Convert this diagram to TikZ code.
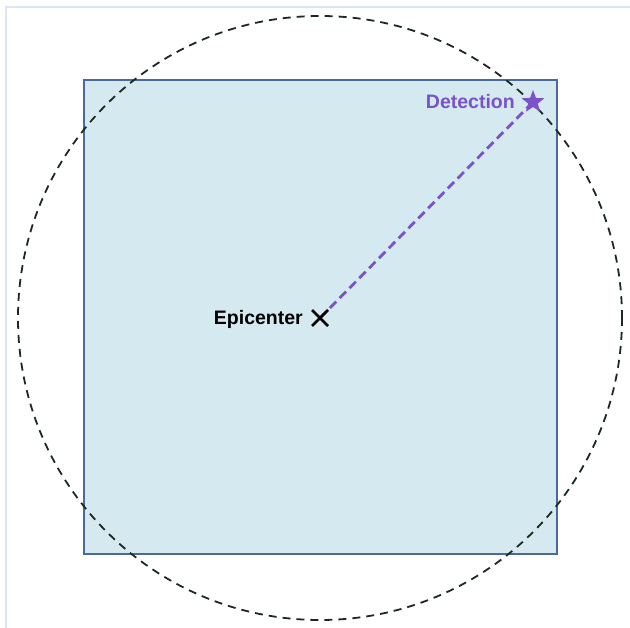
\documentclass[tikz,border=0pt]{standalone}
\usepackage{fontspec}
\setmainfont{Liberation Sans}
\usetikzlibrary{shapes.geometric,calc}
\definecolor{areafill}{HTML}{D4E9F0}
\definecolor{areaedge}{HTML}{4A6A9A}
\definecolor{ringcol}{HTML}{1C2A1E}
\definecolor{detcol}{HTML}{7B52C8}
\definecolor{framecol}{HTML}{DCE6F2}
\tikzset{
  area/.style={draw=areaedge, fill=areafill, line width=1.3pt},
  ring/.style={draw=ringcol, line width=1.8pt, dash pattern=on 8pt off 6pt},
  path/.style={draw=detcol, line width=2.8pt, dash pattern=on 9pt off 5pt},
  lbl/.style={font=\fontsize{19.5}{22}\selectfont\bfseries, inner sep=0pt},
}
\begin{document}
\begin{tikzpicture}[x=1pt,y=-1pt]
\useasboundingbox (0,0) rectangle (630,628);
\draw[framecol, line width=1.5pt] (6,628) -- (6,7) -- (630,7);
\draw[area] (84,80) rectangle (557,554);
\draw[ring] (320,318) circle (302);
\coordinate (epi) at (320,318);
\coordinate (det) at (533,102);
\draw[path] (epi) -- (det);
\draw[black, line width=2.6pt] ($(epi)+(-8,-8)$) -- ($(epi)+(8,8)$) ($(epi)+(-8,8)$) -- ($(epi)+(8,-8)$);
\node[star, star points=5, star point ratio=2.4, fill=detcol, minimum size=24pt, inner sep=0pt] (star) at (det) {};
\node[lbl, text=detcol, anchor=east] (dl) at (515,102) {Detection};
\node[lbl, text=black, anchor=east] (el) at (303,319) {Epicenter};
\end{tikzpicture}
\end{document}
